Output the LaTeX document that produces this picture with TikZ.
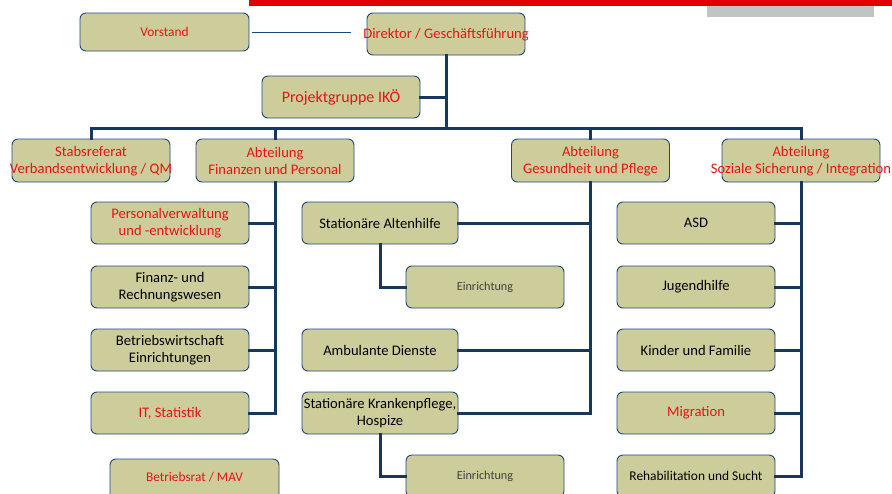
\documentclass[tikz,border=0pt]{standalone}
\usepackage{fontspec}
\setmainfont{Carlito}
\definecolor{boxfill}{RGB}{205,205,155}
\definecolor{navy}{RGB}{31,73,125}
\definecolor{connc}{RGB}{23,55,94}
\definecolor{redtxt}{RGB}{230,20,20}
\definecolor{redbar}{RGB}{224,0,0}
\definecolor{graybar}{RGB}{192,196,195}
\definecolor{greytxt}{RGB}{64,64,64}
\tikzset{
  box/.style={draw=navy, line width=0.9pt, fill=boxfill, rounded corners=6pt, minimum width=158pt, minimum height=42pt, inner sep=0pt},
  txt/.style={align=center, inner sep=0pt, font=\fontsize{14.6}{17.5}\selectfont},
  rtxt/.style={txt, text=redtxt},
  btxt/.style={txt, text=black},
  conn/.style={draw=connc, line width=3pt, line join=miter, line cap=rect},
}
\begin{document}
\begin{tikzpicture}[x=1pt,y=-1pt]
\useasboundingbox (0,0) rectangle (892,493);
\clip (0,0) rectangle (892,493);
% top bars
\fill[redbar] (249,0) rectangle (892,6);
\fill[graybar] (707,6) rectangle (874,16.5);
% boxes
\node[box, minimum width=169pt, minimum height=38pt] (vor) at (164.5,32) {};
\node[rtxt, font=\fontsize{13.4}{16}\selectfont] (vort) at (vor) {Vorstand};
\node[box] (dir) at (446,34) {};
\node[rtxt, font=\fontsize{14.6}{17}\selectfont] (dirt) at (446,35) {Direktor / Geschäftsführung};
\node[box] (pg) at (341,97) {};
\node[rtxt, font=\fontsize{16}{19}\selectfont] (pgt) at (pg) {Projektgruppe IKÖ};
\node[box, minimum height=43pt] (stab) at (91,160.5) {};
\node[rtxt] (stabt) at (91,161) {Stabsreferat\\Verbandsentwicklung / QM};
\node[box, minimum height=43pt] (fin) at (275,160.5) {};
\node[rtxt] (fint) at (275,161) {Abteilung\\Finanzen und Personal};
\node[box, minimum height=43pt] (ges) at (590.5,160.5) {};
\node[rtxt] (gest) at (590.5,161) {Abteilung\\Gesundheit und Pflege};
\node[box, minimum height=43pt] (soz) at (801,160.5) {};
\node[rtxt] (sozt) at (801,161) {Abteilung\\Soziale Sicherung / Integration};
% left column
\node[box] (pv) at (170,223) {};
\node[rtxt] (pvt) at (pv) {Personalverwaltung\\und -entwicklung};
\node[box] (fr) at (170,287) {};
\node[btxt] (frt) at (fr) {Finanz- und\\Rechnungswesen};
\node[box] (bw) at (170,350) {};
\node[btxt] (bwt) at (bw) {Betriebswirtschaft\\Einrichtungen};
\node[box] (it) at (170,413) {};
\node[rtxt] (itt) at (it) {IT, Statistik};
\node[box, minimum width=169pt] (br) at (194.5,480) {};
\node[rtxt, font=\fontsize{13.3}{16}\selectfont] (brt) at (194.5,477.5) {Betriebsrat / MAV};
% middle column
\node[box, minimum width=156pt] (alt) at (380,223) {};
\node[btxt] (altt) at (alt) {Stationäre Altenhilfe};
\node[box] (ein1) at (485,287) {};
\node[txt, text=greytxt, font=\fontsize{12.2}{14}\selectfont] (ein1t) at (485,287) {Einrichtung};
\node[box, minimum width=156pt] (amb) at (380,350) {};
\node[btxt] (ambt) at (amb) {Ambulante Dienste};
\node[box, minimum width=156pt] (kp) at (380,413) {};
\node[btxt] (kpt) at (kp) {Stationäre Krankenpflege,\\Hospize};
\node[box] (ein2) at (485,476) {};
\node[txt, text=greytxt, font=\fontsize{12.2}{14}\selectfont] (ein2t) at (485,476) {Einrichtung};
% right column
\node[box] (asd) at (696,223) {};
\node[btxt] (asdt) at (asd) {ASD};
\node[box] (jh) at (696,287) {};
\node[btxt] (jht) at (jh) {Jugendhilfe};
\node[box] (kf) at (696,350) {};
\node[btxt] (kft) at (kf) {Kinder und Familie};
\node[box] (mig) at (696,413) {};
\node[rtxt] (migt) at (mig) {Migration};
\node[box] (reha) at (696,476) {};
\node[btxt, font=\fontsize{13.4}{16}\selectfont] (rehat) at (reha) {Rehabilitation und Sucht};
% connectors
\coordinate (bus) at (446,128);
\coordinate (vl) at (351,32.5);
\draw[draw=navy, line width=0.9pt] ([xshift=3pt]vor.east |- vl) -- (vl);
\path[conn] (dir.south) -- (dir.south |- bus);
\path[conn] (pg.east) -- (pg.east -| dir.south);
\path[conn] (stab.north) -- (stab.north |- bus) -- (soz.north |- bus) -- (soz.north);
\path[conn] (fin.north) -- (fin.north |- bus);
\path[conn] (ges.north) -- (ges.north |- bus);
% Finanzen
\path[conn] (fin.south) -- (fin.south |- it.east) -- (it.east);
\path[conn] (pv.east) -- (pv.east -| fin.south);
\path[conn] (fr.east) -- (fr.east -| fin.south);
\path[conn] (bw.east) -- (bw.east -| fin.south);
% Gesundheit
\path[conn] (ges.south) -- (ges.south |- kp.east) -- (kp.east);
\path[conn] (alt.east) -- (alt.east -| ges.south);
\path[conn] (amb.east) -- (amb.east -| ges.south);
\path[conn] (alt.south) |- (ein1.west);
\path[conn] (kp.south) |- (ein2.west);
% Soziale
\path[conn] (soz.south) -- (soz.south |- reha.east) -- (reha.east);
\path[conn] (asd.east) -- (asd.east -| soz.south);
\path[conn] (jh.east) -- (jh.east -| soz.south);
\path[conn] (kf.east) -- (kf.east -| soz.south);
\path[conn] (mig.east) -- (mig.east -| soz.south);
\end{tikzpicture}
\end{document}
